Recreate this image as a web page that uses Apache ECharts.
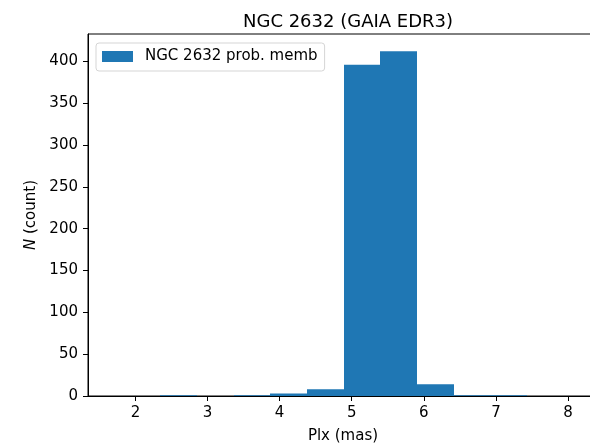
<!DOCTYPE html>
<html>
<head>
<meta charset="utf-8">
<script src="https://cdn.jsdelivr.net/npm/echarts@6/dist/echarts.min.js"></script>
<style>html,body{margin:0;padding:0;background:#fff;overflow:hidden;}#c{width:590px;height:446px;}</style>
</head>
<body>
<div id="c"></div>
<script>
const binEdges = [2.347, 2.855, 3.364, 3.872, 4.380, 4.889, 5.397, 5.906, 6.414, 6.922, 7.430];
const counts = [1, 0, 1, 3, 8, 396, 412, 14, 1, 1];
const xTicks = [2, 3, 4, 5, 6, 7, 8];
const yTicks = [0, 50, 100, 150, 200, 250, 300, 350, 400];
const seriesName = 'NGC 2632 prob. memb';
const titleText = 'NGC 2632 (GAIA EDR3)';

const barColor = '#1f77b4';
const font = 'DejaVu Sans';
const data = counts.map((c, i) => [binEdges[i], binEdges[i + 1], c]);

const chart = echarts.init(document.getElementById('c'));
chart.setOption({
  animation: false,
  backgroundColor: '#fff',
  title: {
    text: titleText, left: 343, top: 8, textAlign: 'center',
    textStyle: {fontFamily: font, fontSize: 18, fontWeight: 'normal', color: '#000'}
  },
  legend: {
    left: 96, top: 43, orient: 'vertical',
    itemWidth: 31, itemHeight: 11,
    padding: [6, 7, 7, 6],
    borderColor: '#d5d5d5', borderWidth: 1, borderRadius: 3,
    backgroundColor: 'rgba(255,255,255,0.8)',
    textStyle: {fontFamily: font, fontSize: 15, color: '#000', padding: [0, 0, 0, 7]},
    data: [{name: seriesName, icon: 'rect', itemStyle: {color: barColor}}]
  },
  grid: {left: 88, width: 510, top: 34, bottom: 50, outerBoundsMode: 'none', containLabel: false, show: true, borderColor: '#000', borderWidth: 1, backgroundColor: 'transparent'},
  xAxis: {
    type: 'value', min: 1.342, max: 8.416,
    name: 'Plx (mas)', nameLocation: 'middle', nameGap: 33,
    nameTextStyle: {fontFamily: font, fontSize: 15, color: '#000'},
    axisLine: {show: true, onZero: false, lineStyle: {color: '#000', width: 1}},
    axisTick: {show: true, length: 5, customValues: xTicks, lineStyle: {color: '#000'}},
    axisLabel: {fontFamily: font, fontSize: 15, color: '#000', margin: 10, customValues: xTicks},
    splitLine: {show: false}
  },
  yAxis: {
    type: 'value', min: 0, max: 432.6,
    name: '{i|N} (count)', nameLocation: 'middle', nameGap: 47, nameRotate: 90,
    nameTextStyle: {fontFamily: font, fontSize: 15, color: '#000', rich: {i: {fontFamily: font, fontSize: 15, fontStyle: 'italic', color: '#000'}}},
    axisLine: {show: true, lineStyle: {color: '#000', width: 1}},
    axisTick: {show: true, length: 5, customValues: yTicks, lineStyle: {color: '#000'}},
    axisLabel: {fontFamily: font, fontSize: 15, color: '#000', margin: 10, customValues: yTicks},
    splitLine: {show: false}
  },
  series: [{
    name: seriesName, type: 'custom',
    itemStyle: {color: barColor},
    encode: {x: [0, 1], y: 2},
    renderItem: function (params, api) {
      const p0 = api.coord([api.value(0), api.value(2)]);
      const p1 = api.coord([api.value(1), 0]);
      const x0 = Math.round(p0[0]), x1 = Math.round(p1[0]);
      return {type: 'rect', shape: {x: x0, y: p0[1], width: x1 - x0, height: p1[1] - p0[1]}, style: {fill: barColor}};
    },
    data: data,
    z: 1
  }]
});
</script>
</body>
</html>
